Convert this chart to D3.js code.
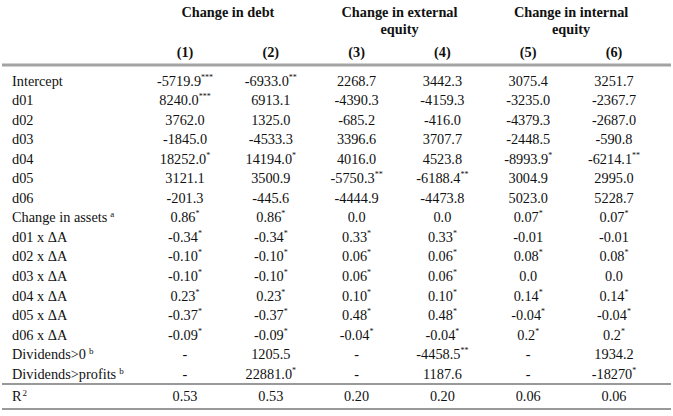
<!DOCTYPE html>
<html>
<head>
<meta charset="utf-8">
<script src="https://cdn.jsdelivr.net/npm/d3@7"></script>
<style>
  html, body { margin: 0; padding: 0; background: #fff; }
  text { font-family: "Liberation Serif", "Times New Roman", serif; fill: #111; }
</style>
</head>
<body>
<div id="canvas"></div>
<script>
// row labels, plus the footnote letter that sits after some of them
const rowLabels = ["Intercept", "d01", "d02", "d03", "d04", "d05", "d06",
  "Change in assets", "d01 x \u0394A", "d02 x \u0394A", "d03 x \u0394A", "d04 x \u0394A",
  "d05 x \u0394A", "d06 x \u0394A", "Dividends>0", "Dividends>profits", "R"];
const rowNotes = ["", "", "", "", "", "", "", "a", "", "", "", "", "", "", "b", "b", "2"];

const groups = ["Change in debt", "Change in external|equity", "Change in internal|equity"];
const columns = ["(1)", "(2)", "(3)", "(4)", "(5)", "(6)"];

// stars mark significance, drawn as superscript
const col1 = ["-5719.9***", "8240.0***", "3762.0", "-1845.0", "18252.0*", "3121.1", "-201.3", "0.86*", "-0.34*", "-0.10*", "-0.10*", "0.23*", "-0.37*", "-0.09*", "-", "-", "0.53"];
const col2 = ["-6933.0**", "6913.1", "1325.0", "-4533.3", "14194.0*", "3500.9", "-445.6", "0.86*", "-0.34*", "-0.10*", "-0.10*", "0.23*", "-0.37*", "-0.09*", "1205.5", "22881.0*", "0.53"];
const col3 = ["2268.7", "-4390.3", "-685.2", "3396.6", "4016.0", "-5750.3**", "-4444.9", "0.0", "0.33*", "0.06*", "0.06*", "0.10*", "0.48*", "-0.04*", "-", "-", "0.20"];
const col4 = ["3442.3", "-4159.3", "-416.0", "3707.7", "4523.8", "-6188.4**", "-4473.8", "0.0", "0.33*", "0.06*", "0.06*", "0.10*", "0.48*", "-0.04*", "-4458.5**", "1187.6", "0.20"];
const col5 = ["3075.4", "-3235.0", "-4379.3", "-2448.5", "-8993.9*", "3004.9", "5023.0", "0.07*", "-0.01", "0.08*", "0.0", "0.14*", "-0.04*", "0.2*", "-", "-", "0.06"];
const col6 = ["3251.7", "-2367.7", "-2687.0", "-590.8", "-6214.1**", "2995.0", "5228.7", "0.07*", "-0.01", "0.08*", "0.0", "0.14*", "-0.04*", "0.2*", "1934.2", "-18270*", "0.06"];
const values = [col1, col2, col3, col4, col5, col6];

const W = 673, H = 416;
const FS = 14.3;

const svg = d3.select('#canvas').append('svg')
  .attr('width', W)
  .attr('height', H);

const x = d3.scalePoint().domain(columns).range([185, 614]);
// row index -> y; the R2 row sits a little lower, after the rule
const y = d3.scaleLinear().domain([0, 15]).range([80.5, 373.8]);
const rowPos = i => i < 16 ? y(i) : y(16.14);

// group headers, centred over pairs of columns
const gh = svg.append('g').attr('class', 'groups');
groups.forEach((g, i) => {
  const cx = (x(columns[i * 2]) + x(columns[i * 2 + 1])) / 2;
  const t = gh.append('text')
    .attr('x', cx).attr('y', 17)
    .attr('text-anchor', 'middle')
    .style('font-weight', 'bold')
    .style('font-size', FS + 'px');
  g.split('|').forEach((line, j) => {
    t.append('tspan').attr('x', cx).attr('dy', j ? 17 : 0).text(line);
  });
});

svg.append('g').selectAll('text').data(columns)
  .enter().append('text')
  .attr('x', d => x(d))
  .attr('y', 57)
  .attr('text-anchor', 'middle')
  .style('font-weight', 'bold')
  .style('font-size', FS + 'px')
  .text(d => d);

// rules
const midRule = (rowPos(15) + rowPos(16)) / 2 - 1;
svg.append('line').attr('x1', 2).attr('x2', 671).attr('y1', 65).attr('y2', 65)
  .style('stroke', '#a3a3a3').style('stroke-width', 3);
svg.append('line').attr('x1', 2).attr('x2', 671).attr('y1', midRule).attr('y2', midRule)
  .style('stroke', '#777').style('stroke-width', 1.5);
svg.append('line').attr('x1', 2).attr('x2', 671).attr('y1', 409).attr('y2', 409)
  .style('stroke', '#777').style('stroke-width', 1.5);

// row labels
const lab = svg.append('g').selectAll('text').data(rowLabels)
  .enter().append('text')
  .attr('x', 12)
  .attr('y', (d, i) => rowPos(i) + 5)
  .style('font-size', FS + 'px')
  .text(d => d);
lab.filter((d, i) => rowNotes[i] !== '')
  .append('tspan')
  .attr('dx', d => rowLabels.indexOf(d) === 16 ? 1 : 3)
  .attr('dy', -5)
  .style('font-size', '9px')
  .text(d => rowNotes[rowLabels.indexOf(d)]);

// cells
values.forEach((col, c) => {
  const cells = svg.append('g').selectAll('text').data(col)
    .enter().append('text')
    .attr('x', x(columns[c]))
    .attr('y', (d, i) => rowPos(i) + 5)
    .attr('text-anchor', 'middle')
    .style('font-size', FS + 'px');
  cells.append('tspan').text(d => d.replace(/\*+$/, ''));
  cells.filter(d => /\*$/.test(d))
    .append('tspan')
    .attr('dy', -6)
    .style('font-size', '8px')
    .text(d => d.match(/\*+$/)[0]);
});
</script>
</body>
</html>
